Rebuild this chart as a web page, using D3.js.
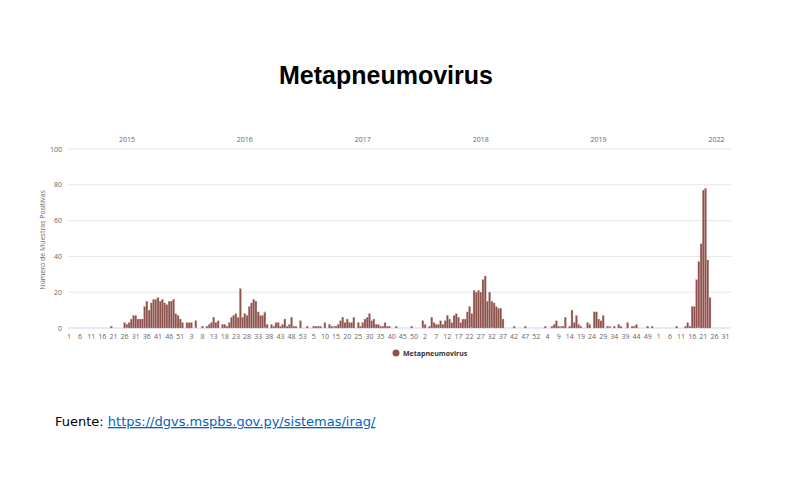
<!DOCTYPE html>
<html><head><meta charset="utf-8">
<script src="https://cdn.jsdelivr.net/npm/d3@7"></script>
<style>body{margin:0;background:#fff;font-family:"Open Sans",sans-serif}</style>
</head><body><svg id="c" width="791" height="480"></svg>
<script>
// weekly positives per year (53 weeks per year, 2022 partial)
const years = ["2015", "2016", "2017", "2018", "2019", "2022"];
const v2015 = [0,0,0,0,0,0,0,0,0,0,0,0,0,0,0,0,0,0,0,1,0,0,0,0,0,3,2,3,5,7,7,5,5,5,12,15,10,14,16,16,17,15,16,14,13,15,15,16,8,7,5,3,0];
const v2016 = [3,3,3,0,4,0,0,1,0,1,2,3,6,3,4,0,2,2,1,3,6,7,8,6,22,6,8,7,12,14,16,15,9,7,7,9,2,0,2,1,3,3,1,2,5,1,2,6,1,1,0,4,0];
const v2017 = [0,1,0,0,1,1,1,1,0,3,0,2,1,1,1,2,4,6,3,5,3,3,6,0,3,1,3,5,6,8,4,5,2,2,1,1,3,1,1,0,0,1,0,0,0,0,0,0,1,0,0,0,0];
const v2018 = [4,2,0,1,6,3,2,2,4,2,4,7,5,3,7,8,6,3,5,5,9,12,8,21,20,21,20,27,29,15,20,15,14,12,11,11,5,0,0,0,0,1,0,0,0,0,1,0,0,0,0,0,0];
const v2019 = [0,0,1,0,0,1,2,4,1,1,1,6,0,1,10,3,7,2,1,0,0,3,2,0,9,9,5,4,7,0,1,1,0,1,0,2,1,0,0,3,0,1,1,2,0,0,0,0,1,0,1,0,0];
const v2022 = [0,0,0,0,0,0,0,0,1,0,0,0,1,3,1,12,12,27,37,47,77,78,38,17,0,0,0,0,0,0,0,0,0];
const yTicks = [0, 20, 40, 60, 80, 100];

const series = [v2015, v2016, v2017, v2018, v2019, v2022];
let data = [];
series.forEach((arr, yi) => arr.forEach((v, w) => data.push({year: years[yi], week: w + 1, v: v, i: data.length})));

const svg = d3.select("#c");
const x0 = 68, x1 = 731, yTop = 149, yBot = 328;
const x = d3.scaleBand().domain(data.map(d => d.i)).range([x0, x1]).paddingInner(0.12);
const y = d3.scaleLinear().domain([0, 100]).range([yBot, yTop]);

svg.append("text").attr("x", 386).attr("y", 84).attr("text-anchor", "middle")
  .style("font-family", "Liberation Sans, Arial, sans-serif").style("font-weight", "bold").style("font-size", "25px")
  .text("Metapneumovirus");

// grid
svg.append("g").selectAll("line").data(yTicks).join("line")
  .attr("x1", x0).attr("x2", x1).attr("y1", d => y(d)).attr("y2", d => y(d))
  .attr("stroke", d => d === 0 ? "#ccd6eb" : "#e6e6e6").attr("stroke-width", 1);
svg.append("g").selectAll("text").data(yTicks).join("text")
  .attr("x", 62).attr("y", d => y(d) + 2.5).attr("text-anchor", "end")
  .attr("fill", "#666").style("font-size", "7px").text(d => d);

svg.append("text").attr("transform", "translate(45,240) rotate(-90)").attr("text-anchor", "middle")
  .attr("fill", "#666").style("font-size", "7px").text("Número de Muestras Positivas");

// bars
svg.append("g").selectAll("rect").data(data.filter(d => d.v > 0)).join("rect")
  .attr("x", d => x(d.i)).attr("width", x.bandwidth())
  .attr("y", d => y(d.v)).attr("height", d => yBot - y(d.v))
  .attr("fill", "#8c524c").attr("stroke", "#c9a09b").attr("stroke-width", 0.3);

// week tick labels every 5 bars
const step = (x1 - x0) / data.length;
svg.append("g").selectAll("text").data(data.filter(d => d.i % 5 === 0)).join("text")
  .attr("x", d => x(d.i) + x.bandwidth() / 2).attr("y", 339).attr("text-anchor", "middle")
  .attr("fill", "#666").style("font-size", "7px").text(d => d.week);

// year labels, centred on a 53 week span
svg.append("g").selectAll("text").data(years).join("text")
  .attr("x", (d, k) => x0 + (k * 53 + 26.5) * step).attr("y", 142).attr("text-anchor", "middle")
  .attr("fill", "#666").style("font-size", "7px").text(d => d);

// legend
svg.append("circle").attr("cx", 396).attr("cy", 353).attr("r", 3.5).attr("fill", "#8c524c");
svg.append("text").attr("x", 403).attr("y", 355.5).attr("fill", "#333")
  .style("font-size", "7px").style("font-weight", "bold").text("Metapneumovirus");

// source
const f = svg.append("text").attr("x", 55).attr("y", 426).style("font-size", "13px")
  .style("font-family", "DejaVu Sans, sans-serif").attr("fill", "#000");
f.append("tspan").text("Fuente: ");
f.append("tspan").attr("fill", "#0563c1").attr("text-decoration", "underline")
  .text("https://dgvs.mspbs.gov.py/sistemas/irag/");
</script></body></html>
